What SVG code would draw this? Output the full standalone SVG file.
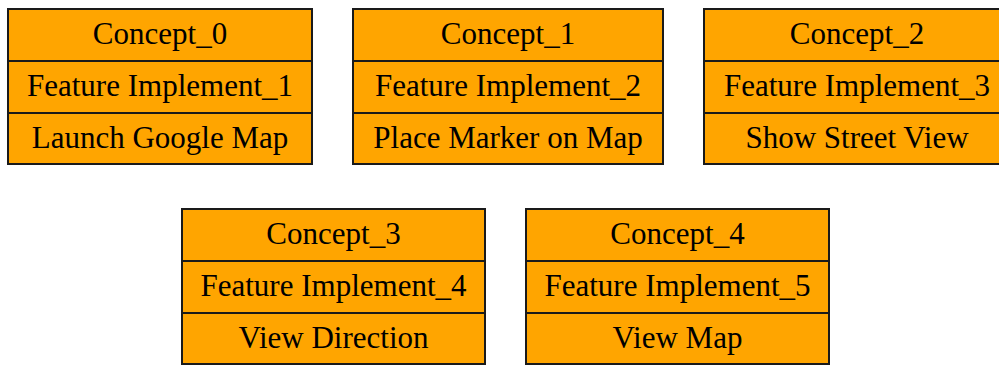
<svg xmlns="http://www.w3.org/2000/svg" width="999" height="365" viewBox="0 0 999 365">
<style>
.box{fill:#FFA500;stroke:#1a1a1a;stroke-width:2}
.div{stroke:#1a1a1a;stroke-width:2}
text{font-family:"Liberation Serif","Times New Roman",serif;font-size:31px;fill:#000;text-anchor:middle}
</style>
<rect width="999" height="365" fill="#fff"/>
<g id="connectors"></g>
<g id="concept0">
<rect class="box" x="8" y="9" width="304" height="155"/>
<line class="div" x1="8" y1="61" x2="312" y2="61"/>
<line class="div" x1="8" y1="113" x2="312" y2="113"/>
<text x="160" y="44">Concept_0</text>
<text x="160" y="96">Feature Implement_1</text>
<text x="160" y="148">Launch Google Map</text>
</g>
<g id="concept1">
<rect class="box" x="353" y="9" width="310" height="155"/>
<line class="div" x1="353" y1="61" x2="663" y2="61"/>
<line class="div" x1="353" y1="113" x2="663" y2="113"/>
<text x="508" y="44">Concept_1</text>
<text x="508" y="96">Feature Implement_2</text>
<text x="508" y="148">Place Marker on Map</text>
</g>
<g id="concept2">
<rect class="box" x="704" y="9" width="308" height="155"/>
<line class="div" x1="704" y1="61" x2="1012" y2="61"/>
<line class="div" x1="704" y1="113" x2="1012" y2="113"/>
<text x="857" y="44">Concept_2</text>
<text x="857" y="96">Feature Implement_3</text>
<text x="857" y="148">Show Street View</text>
</g>
<g id="concept3">
<rect class="box" x="182" y="209" width="303" height="155"/>
<line class="div" x1="182" y1="261" x2="485" y2="261"/>
<line class="div" x1="182" y1="313" x2="485" y2="313"/>
<text x="333.5" y="244">Concept_3</text>
<text x="333.5" y="296">Feature Implement_4</text>
<text x="333.5" y="348">View Direction</text>
</g>
<g id="concept4">
<rect class="box" x="526" y="209" width="303" height="155"/>
<line class="div" x1="526" y1="261" x2="829" y2="261"/>
<line class="div" x1="526" y1="313" x2="829" y2="313"/>
<text x="677.5" y="244">Concept_4</text>
<text x="677.5" y="296">Feature Implement_5</text>
<text x="677.5" y="348">View Map</text>
</g>
</svg>
